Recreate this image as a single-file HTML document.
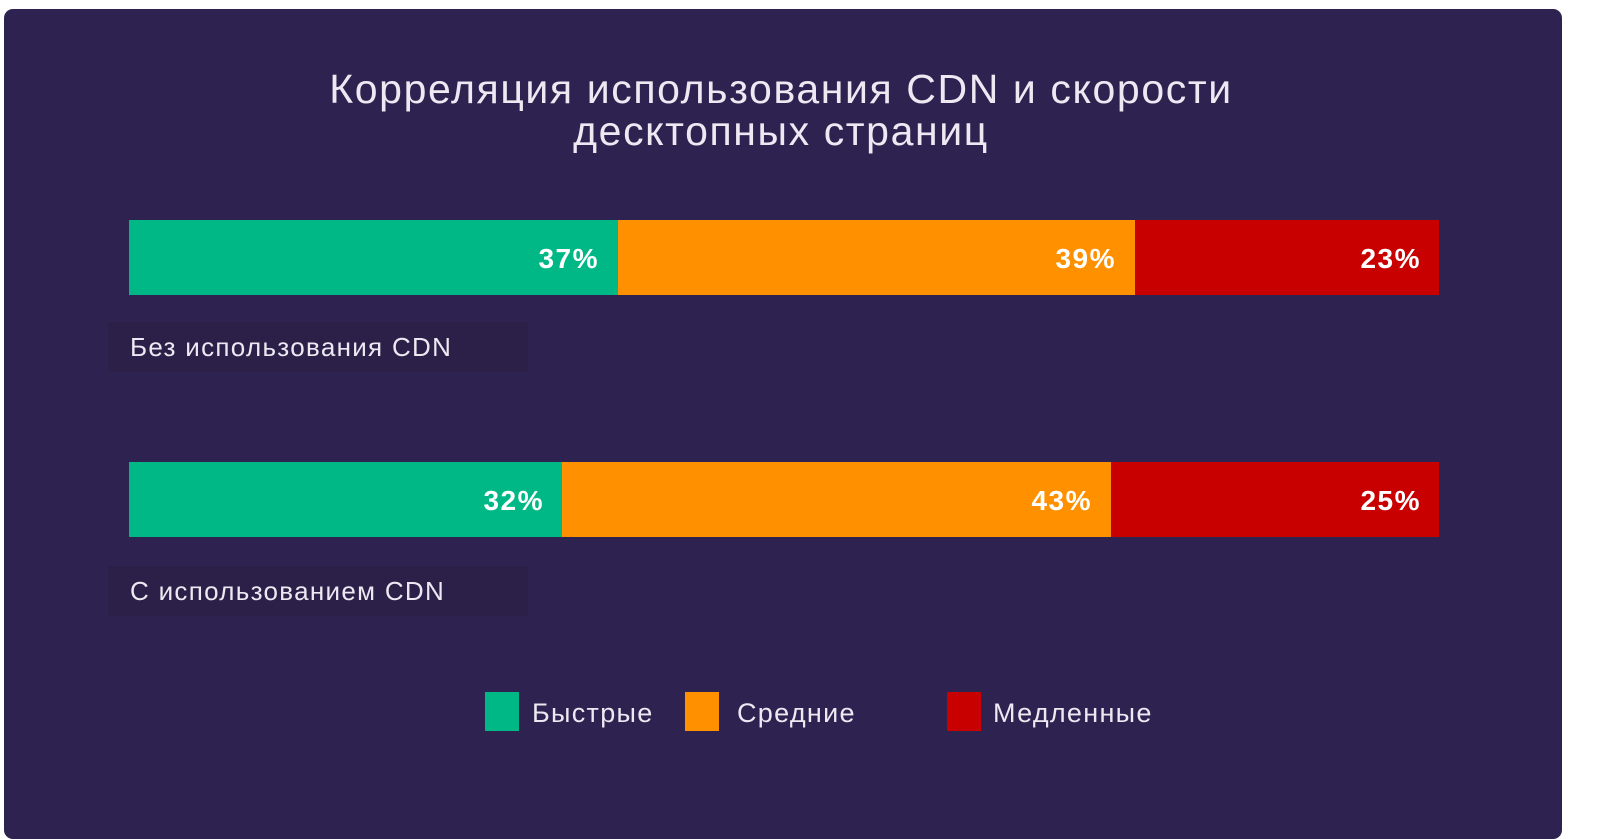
<!DOCTYPE html>
<html><head><meta charset="utf-8"><style>
body{margin:0;width:1600px;height:826px;background:#fff;position:relative;overflow:hidden;font-family:"Liberation Sans",sans-serif}
.card{position:absolute;left:4px;top:9px;width:1558px;height:830px;background:#2e2250;border-radius:9px}
.t{position:absolute;left:0;width:1562px;text-align:center;color:#ece9f2;font-size:41px;line-height:42px;letter-spacing:1.6px}
.seg{position:absolute;height:75px}
.p{position:absolute;color:#fff;font-weight:bold;font-size:28px;line-height:77px;text-align:right;letter-spacing:1.5px}
.lab{position:absolute;color:#ece9f2;font-size:26px;background:#2c2049;padding:0 0 0 22px;height:50px;line-height:50px;letter-spacing:1.3px}
.sq{position:absolute;top:692px;width:34px;height:39px}
.lg{position:absolute;top:692px;line-height:42px;color:#ece9f2;font-size:27px;letter-spacing:1.3px}
</style></head><body>
<div class="card"></div>
<div class="t" style="top:68px">Корреляция использования CDN и скорости</div>
<div class="t" style="top:110px">десктопных страниц</div>

<div class="seg" style="top:220px;left:129px;width:489px;background:#00b886"></div>
<div class="seg" style="top:220px;left:618px;width:517px;background:#ff9000"></div>
<div class="seg" style="top:220px;left:1135px;width:304px;background:#c80000"></div>
<div class="p" style="top:220px;left:400px;width:199px">37%</div>
<div class="p" style="top:220px;left:900px;width:216px">39%</div>
<div class="p" style="top:220px;left:1200px;width:221px">23%</div>
<div class="lab" style="left:108px;top:322px;width:398px">Без использования CDN</div>

<div class="seg" style="top:462px;left:129px;width:433px;background:#00b886"></div>
<div class="seg" style="top:462px;left:562px;width:549px;background:#ff9000"></div>
<div class="seg" style="top:462px;left:1111px;width:328px;background:#c80000"></div>
<div class="p" style="top:462px;left:350px;width:194px">32%</div>
<div class="p" style="top:462px;left:850px;width:242px">43%</div>
<div class="p" style="top:462px;left:1200px;width:221px">25%</div>
<div class="lab" style="left:108px;top:566px;width:398px">С использованием CDN</div>

<div class="sq" style="left:485px;background:#00b886"></div>
<div class="lg" style="left:532px">Быстрые</div>
<div class="sq" style="left:685px;background:#ff9000"></div>
<div class="lg" style="left:737px">Средние</div>
<div class="sq" style="left:947px;background:#c80000"></div>
<div class="lg" style="left:993px">Медленные</div>
</body></html>
